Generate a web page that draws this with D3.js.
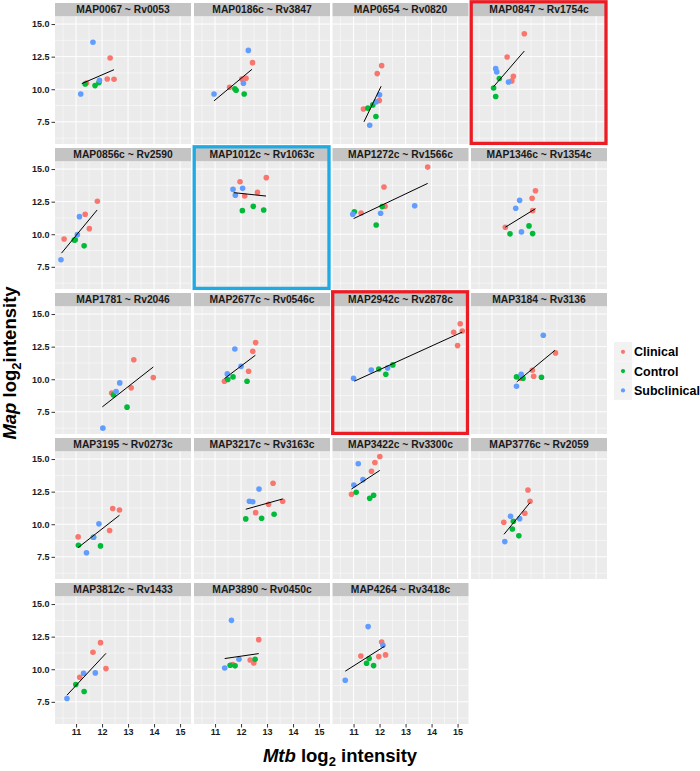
<!DOCTYPE html>
<html><head><meta charset="utf-8">
<script src="https://cdn.jsdelivr.net/npm/d3@7"></script>
<style>body{margin:0;background:#fff}svg{display:block;font-family:"Liberation Sans",Arial,sans-serif}</style>
</head><body><svg id="c" width="700" height="771"></svg>
<script>
const panelTitles = ["MAP0067 ~ Rv0053","MAP0186c ~ Rv3847","MAP0654 ~ Rv0820","MAP0847 ~ Rv1754c",
"MAP0856c ~ Rv2590","MAP1012c ~ Rv1063c","MAP1272c ~ Rv1566c","MAP1346c ~ Rv1354c",
"MAP1781 ~ Rv2046","MAP2677c ~ Rv0546c","MAP2942c ~ Rv2878c","MAP3184 ~ Rv3136",
"MAP3195 ~ Rv0273c","MAP3217c ~ Rv3163c","MAP3422c ~ Rv3300c","MAP3776c ~ Rv2059",
"MAP3812c ~ Rv1433","MAP3890 ~ Rv0450c","MAP4264 ~ Rv3418c"];
const groups = ["Clinical","Control","Subclinical"];
const groupColors = ["#F8766D","#00BA38","#619CFF"];
// [Mtb, Map] per panel
const clinical = [
 [[11.4,10.48],[12.31,12.4],[12.2,10.79],[12.46,10.77]],
 [[11.56,10.15],[12.03,10.79],[12.19,10.84],[12.44,12.04]],
 [[11.38,8.49],[11.99,9.13],[11.91,11.2],[12.08,11.81]],
 [[11.58,12.47],[11.76,10.64],[11.82,11.0],[12.24,14.26]],
 [[10.54,9.64],[11.35,11.53],[11.51,10.43],[11.82,12.53]],
 [[11.96,14.03],[12.14,12.93],[12.63,13.21],[12.97,14.34]],
 [[11.29,11.63],[12.17,13.62],[12.21,12.14],[13.85,15.15]],
 [[11.51,10.54],[12.54,12.76],[12.56,11.81],[12.67,13.34]],
 [[12.37,8.95],[13.12,9.34],[13.22,11.5],[13.97,10.13]],
 [[11.36,9.85],[12.29,10.61],[12.45,12.14],[12.56,12.81]],
 [[14.85,13.6],[15.1,14.26],[15.18,13.7],[15.0,12.58]],
 [[12.09,10.08],[12.55,10.69],[12.6,10.23],[13.44,12.02]],
 [[11.08,9.03],[12.29,9.52],[12.41,11.21],[12.67,11.09]],
 [[12.56,10.89],[13.06,11.53],[13.23,13.14],[13.6,11.76]],
 [[10.92,12.3],[11.69,14.06],[11.82,14.74],[12.01,15.2]],
 [[11.45,10.15],[12.26,10.84],[12.46,11.76],[12.38,12.63]],
 [[11.14,9.39],[11.65,11.3],[11.94,12.04],[12.15,10.05]],
 [[11.68,10.36],[12.35,10.71],[12.49,10.48],[12.68,12.27]],
 [[11.28,11.02],[11.97,10.97],[12.08,12.09],[12.23,11.1]]
];
const control = [
 [[11.35,10.4],[11.73,10.28],[11.88,10.51]],
 [[11.76,10.03],[11.81,9.92],[12.12,9.64]],
 [[11.55,8.55],[11.74,8.8],[11.86,7.91]],
 [[11.06,10.1],[11.14,9.44],[11.28,10.82]],
 [[10.93,9.55],[10.97,9.57],[11.31,9.11]],
 [[12.05,11.81],[12.47,12.14],[12.87,11.86]],
 [[11.03,11.73],[11.87,10.71],[12.1,12.12]],
 [[11.69,10.03],[12.42,10.64],[12.56,10.05]],
 [[12.44,8.8],[12.96,7.86]],
 [[11.49,9.98],[11.69,10.18],[12.23,9.85]],
 [[11.97,10.79],[12.24,10.38],[12.51,11.1]],
 [[11.94,10.18],[12.19,10.08],[12.9,10.15]],
 [[11.09,8.39],[11.67,9.0],[11.94,8.34]],
 [[12.18,10.41],[12.79,10.46],[13.27,10.77]],
 [[11.1,12.45],[11.62,11.99],[11.77,12.22]],
 [[11.82,10.23],[11.78,9.64],[12.03,9.11]],
 [[10.99,8.83],[11.31,8.29]],
 [[11.58,10.31],[11.77,10.26],[12.54,10.77]],
 [[11.5,10.46],[11.6,10.82],[11.77,10.28]]
];
const subclinical = [
 [[11.18,9.64],[11.65,13.6],[11.9,10.69]],
 [[10.96,9.64],[12.09,10.46],[12.28,12.98]],
 [[11.86,9.03],[12.0,9.57],[11.62,7.24]],
 [[11.14,11.58],[11.18,11.33],[11.63,10.56]],
 [[10.42,8.04],[11.05,9.97],[11.13,11.35]],
 [[11.69,13.44],[11.78,13.0],[12.06,13.52]],
 [[10.97,11.53],[12.04,11.61],[13.35,12.19]],
 [[11.91,11.99],[12.06,12.6],[12.13,10.18]],
 [[12.03,6.25],[12.54,9.06],[12.68,9.72]],
 [[11.47,10.41],[11.76,12.32],[12.0,10.99]],
 [[11.0,10.08],[11.68,10.71],[12.31,10.87]],
 [[11.94,9.46],[12.12,10.38],[12.97,13.37]],
 [[11.4,7.81],[11.67,9.0],[11.88,10.03]],
 [[12.32,11.76],[12.45,11.73],[12.69,12.7]],
 [[11.01,13.01],[11.18,14.64],[11.36,13.42]],
 [[11.49,8.67],[11.71,10.61],[12.06,10.43]],
 [[10.65,7.76],[11.29,9.69],[11.74,9.72]],
 [[11.37,10.1],[11.63,13.75],[11.92,10.77]],
 [[10.68,9.16],[11.56,13.27],[12.13,11.84]]
];
// fitted regression line endpoints [x1, y1, x2, y2]
const fitLines = [
 [11.22,10.43,12.46,11.5],[10.96,9.11,12.42,11.53],[11.4,7.5,12.06,10.23],[11.06,10.2,12.24,12.93],
 [10.44,8.55,11.81,11.86],[11.72,13.19,12.96,12.93],[11.0,11.2,13.85,13.9],[11.51,10.54,12.67,11.96],
 [12.01,7.88,13.97,10.94],[11.36,10.05,12.55,11.84],[11.03,9.85,15.18,13.62],[11.95,9.8,13.42,12.22],
 [11.08,8.21,12.67,10.69],[12.18,11.15,13.6,11.94],[10.92,12.7,12.01,14.13],[11.46,9.23,12.46,11.66],
 [10.65,8.01,12.15,11.22],[11.37,10.82,12.68,11.2],[10.68,9.85,12.19,11.76]
];
const xTicks = [11,12,13,14,15];
const yTicks = [7.5,10.0,12.5,15.0];
const xMinor = [10.5,11.5,12.5,13.5,14.5];
const yMinor = [6.25,8.75,11.25,13.75];
const highlightRed = [3, 10];
const highlightBlue = [5];

const svg = d3.select("#c");
const nCol = 4, pW = 136, stripH = 13.5, pH = 127.5;
const colX = [55, 194, 332.5, 471], rowY = [3, 148, 293, 438, 583];
const x = d3.scaleLinear().domain([10.19, 15.42]).range([0, pW]);
const y = d3.scaleLinear().domain([5.8, 15.58]).range([pH, 0]);

panelTitles.forEach((t, i) => {
  const c = i % nCol, r = Math.floor(i / nCol);
  const g = svg.append("g").attr("transform", `translate(${colX[c]},${rowY[r]})`);
  g.append("rect").attr("width", pW).attr("height", stripH).attr("fill", "#C4C4C4");
  g.append("text").attr("x", pW / 2).attr("y", 9.8).attr("text-anchor", "middle")
    .attr("font-size", 10.3).attr("font-weight", "bold").attr("fill", "#1a1a1a").text(t);
  const p = g.append("g").attr("transform", `translate(0,${stripH})`);
  p.append("rect").attr("width", pW).attr("height", pH).attr("fill", "#EBEBEB");
  p.selectAll(".xm").data(xMinor).join("line").attr("x1", d => x(d)).attr("x2", d => x(d))
    .attr("y1", 0).attr("y2", pH).attr("stroke", "#fff").attr("stroke-width", 0.5);
  p.selectAll(".ym").data(yMinor).join("line").attr("y1", d => y(d)).attr("y2", d => y(d))
    .attr("x1", 0).attr("x2", pW).attr("stroke", "#fff").attr("stroke-width", 0.5);
  p.selectAll(".xM").data(xTicks).join("line").attr("x1", d => x(d)).attr("x2", d => x(d))
    .attr("y1", 0).attr("y2", pH).attr("stroke", "#fff").attr("stroke-width", 1);
  p.selectAll(".yM").data(yTicks).join("line").attr("y1", d => y(d)).attr("y2", d => y(d))
    .attr("x1", 0).attr("x2", pW).attr("stroke", "#fff").attr("stroke-width", 1);
  [clinical, control, subclinical].forEach((arr, gi) => {
    p.selectAll(null).data(arr[i]).join("circle").attr("cx", d => x(d[0])).attr("cy", d => y(d[1]))
      .attr("r", 2.8).attr("fill", groupColors[gi]);
  });
  const L = fitLines[i];
  p.append("line").attr("x1", x(L[0])).attr("y1", y(L[1])).attr("x2", x(L[2])).attr("y2", y(L[3]))
    .attr("stroke", "#000").attr("stroke-width", 1);
  if (c === 0) {
    const ax = p.append("g").call(d3.axisLeft(y).tickValues(yTicks).tickFormat(d3.format(".1f")).tickSize(3.5).tickPadding(2));
    ax.select(".domain").remove();
    ax.selectAll("line").attr("stroke", "#333");
    ax.selectAll("text").attr("font-size", 9).attr("font-weight", "bold").attr("fill", "#1a1a1a").attr("font-family", "Liberation Sans, Arial, sans-serif");
  }
  if (r === 4) {
    const ax = p.append("g").attr("transform", `translate(0,${pH})`)
      .call(d3.axisBottom(x).tickValues(xTicks).tickFormat(d3.format("d")).tickSize(3.5).tickPadding(1.5));
    ax.select(".domain").remove();
    ax.selectAll("line").attr("stroke", "#333");
    ax.selectAll("text").attr("font-size", 9).attr("font-weight", "bold").attr("fill", "#1a1a1a").attr("font-family", "Liberation Sans, Arial, sans-serif");
  }
});

function box(i, color) {
  const c = i % nCol, r = Math.floor(i / nCol);
  svg.append("rect").attr("x", colX[c] + 0.2).attr("y", rowY[r] - 1.2)
    .attr("width", pW - 1.2).attr("height", stripH + pH + 0.6)
    .attr("fill", "none").attr("stroke", color).attr("stroke-width", 3.3);
}
highlightRed.forEach(i => box(i, "#EC1C24"));
highlightBlue.forEach(i => box(i, "#1EAAE2"));

// axis titles
const xt = svg.append("text").attr("x", 340).attr("y", 762).attr("text-anchor", "middle")
  .attr("font-size", 18.5).attr("font-weight", "bold").attr("fill", "#000");
xt.append("tspan").attr("font-style", "italic").text("Mtb");
xt.append("tspan").text(" log");
xt.append("tspan").attr("font-size", 13).attr("dy", 4).text("2");
xt.append("tspan").attr("dy", -4).text(" intensity");

const yt = svg.append("text").attr("transform", "translate(16,363) rotate(-90)").attr("text-anchor", "middle")
  .attr("font-size", 18.5).attr("font-weight", "bold").attr("fill", "#000");
yt.append("tspan").attr("font-style", "italic").text("Map");
yt.append("tspan").text(" log");
yt.append("tspan").attr("font-size", 13).attr("dy", 5).text("2");
yt.append("tspan").attr("dy", -5).text("intensity");

// legend
const lg = svg.append("g").attr("transform", "translate(614,342)");
groups.forEach((gname, gi) => {
  lg.append("rect").attr("x", 0).attr("y", gi * 19.3).attr("width", 18).attr("height", 19.3).attr("fill", "#F2F2F2");
  lg.append("circle").attr("cx", 9).attr("cy", gi * 19.3 + 9.8).attr("r", 2.1).attr("fill", groupColors[gi]);
  lg.append("text").attr("x", 20).attr("y", gi * 19.3 + 14.3).attr("font-size", 12.5).attr("font-weight", "bold").attr("fill", "#000").text(gname);
});
</script></body></html>
